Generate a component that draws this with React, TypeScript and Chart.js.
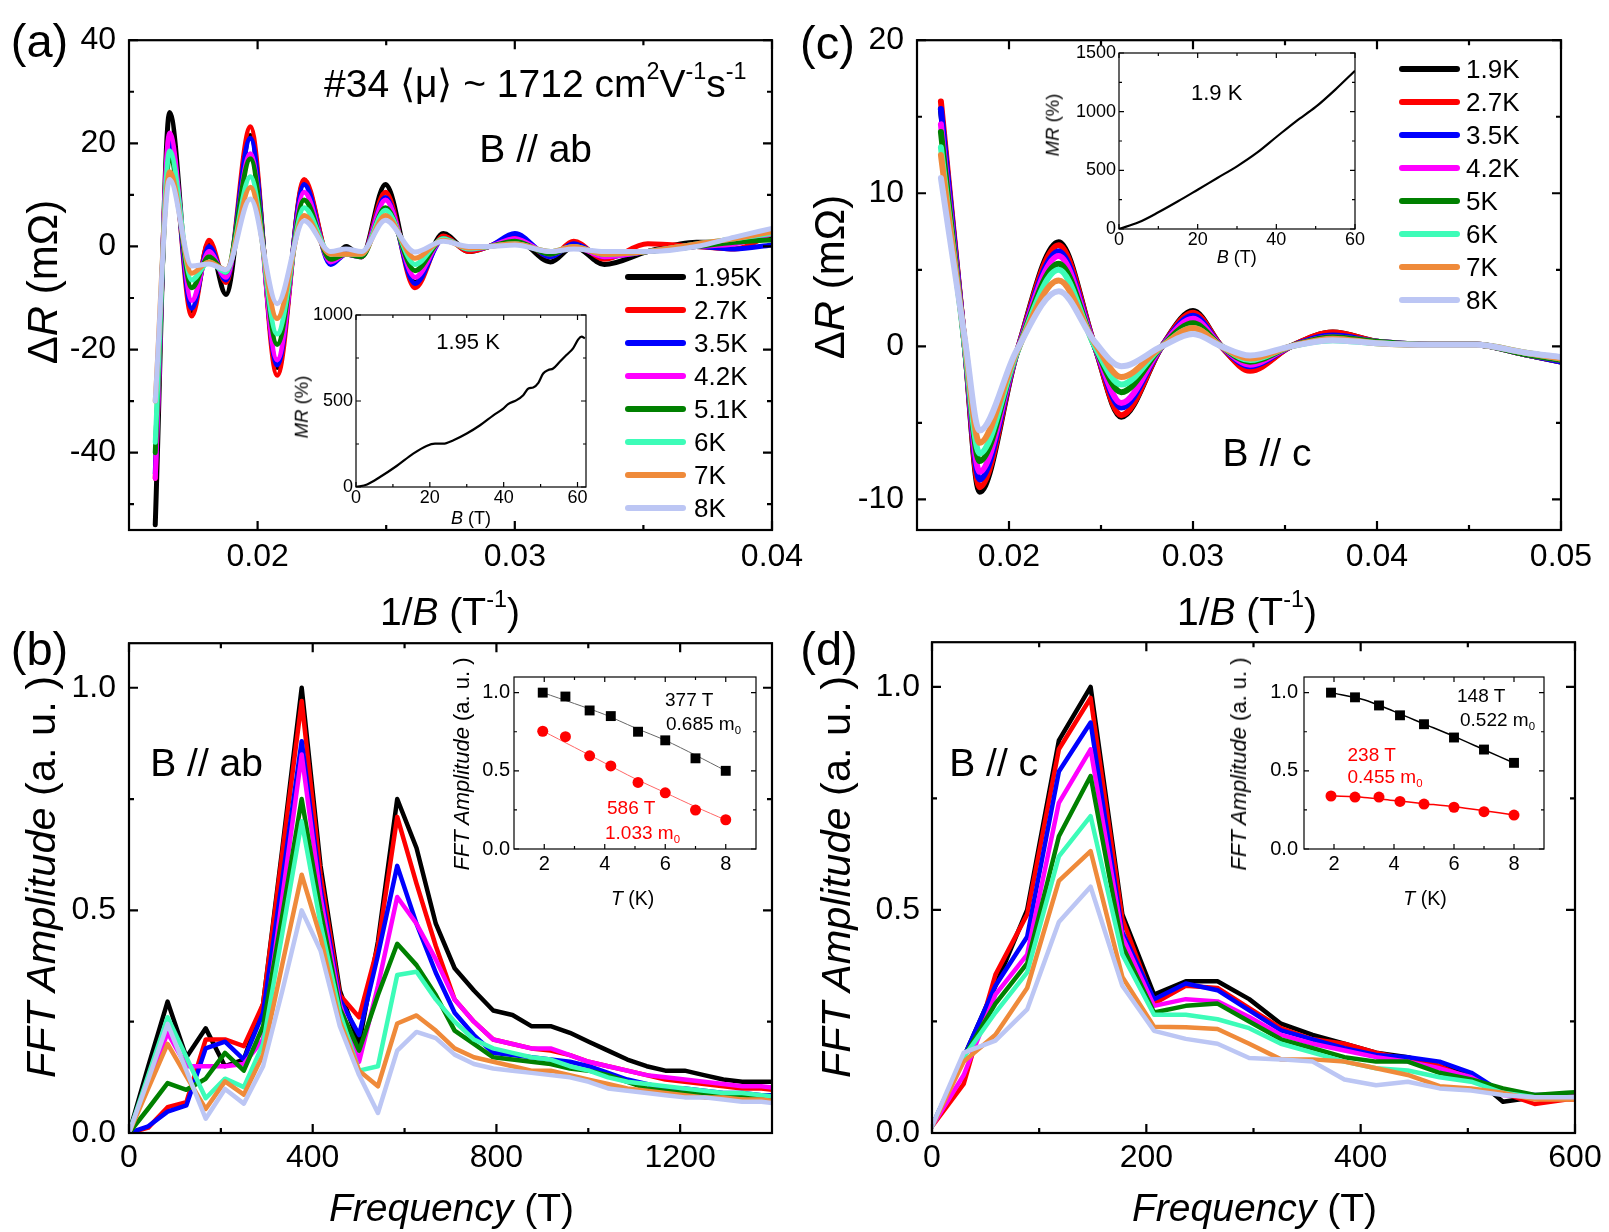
import { useEffect, useRef } from 'react';
import { Chart, registerables } from 'chart.js';

Chart.register(...registerables);

const FONT = '"Liberation Sans", Arial, Helvetica, sans-serif';

const SERIES_COLORS = ['#000000', '#ff0000', '#0000ff', '#ff00ff', '#008000', '#3dfcb8', '#ef8a3a', '#bcc6f4'];
const TEMPS_AB = ['1.95K', '2.7K', '3.5K', '4.2K', '5.1K', '6K', '7K', '8K'];
const TEMPS_C = ['1.9K', '2.7K', '3.5K', '4.2K', '5K', '6K', '7K', '8K'];

// ---- Panel (a): ΔR vs 1/B, B // ab ----
const A_INVB = [0.01602, 0.01658, 0.01744, 0.01811, 0.01877, 0.01972, 0.02076, 0.02181, 0.02284, 0.02344, 0.02404, 0.02497, 0.02612, 0.02722, 0.02821, 0.02901, 0.03, 0.03139, 0.03229, 0.03348, 0.03517, 0.03706, 0.03855, 0.04];
const A_195K = [-54, 26, -12.5, 0.8, -9.3, 21.5, -23.5, 12.5, -3, 0, -2, 12, -7, 2.5, -1, 0, 1.5, -3, 0, -3.5, -1, 0.8, 0.8, 2];
const A_27K = [-45, 21.5, -13.5, 1.2, -7, 23.2, -25, 13, -3, -1, -2, 10.5, -8, 2, -1, 0, 2, -2, 1, -2.5, 0.5, 0, -0.5, 2.5];
const A_35K = [-44, 20.5, -12, 0, -6.5, 21, -23, 12, -3.5, -1.5, -2, 9.5, -7.2, 1.5, -0.5, 0, 2.5, -2, 0.5, -2, -1, 0, -0.5, 0.3];
const A_42K = [-45, 22, -10.5, -1, -6, 18, -22, 10.5, -3, -1.5, -2, 9, -6, 1.5, -0.5, 0, 1.5, -1.5, 0, -2, -1, 0, 0.5, 2.5];
const A_51K = [-40, 17.5, -8, -2, -5, 17, -19, 9, -2.5, -1.5, -2, 7.5, -4.7, 1.5, -0.5, 0, 1, -1.5, 0, -1.5, -1, 0, 0.8, 1.3];
const A_6K = [-38, 18.5, -6.5, -3, -5, 13.5, -17, 7.5, -1.5, -1.5, -1.5, 7, -3.5, 1.5, -0.5, 0, 0.5, -1, 0, -1.5, -1, 0.5, 1.5, 2.5];
const A_7K = [-30, 14.5, -5.2, -3, -4.5, 11.5, -14, 6, -1.5, -1.5, -1.5, 6, -2.3, 1.2, -0.3, 0, 0.5, -1, 0, -1.5, -1, 0.5, 1.5, 2.8];
const A_8K = [-30, 13, -3.8, -3.4, -4.5, 9.2, -11.1, 5, -1, -0.5, -1, 5.1, -1.1, 1, 0, 0, 0.3, -1, -0.5, -1, -1, 0, 1.8, 3.5];

// inset (a): MR vs B at 1.95 K
const A_INSET_B = [0, 3, 6.5, 11, 15.5, 19.1, 21.4, 23.6, 26.4, 30, 33.6, 37.2, 39.9, 41.2, 43.5, 45.3, 46.7, 48, 49.4, 50.7, 52.1, 53.4, 55.2, 57, 58.8, 60.2, 61.1, 62];
const A_INSET_MR = [0, 15, 58, 122, 194, 239, 252, 252, 272, 311, 359, 417, 456, 482, 505, 534, 573, 579, 606, 660, 680, 689, 728, 767, 806, 858, 874, 864];

// ---- Panel (c): ΔR vs 1/B, B // c ----
const C_INVB = [0.0163, 0.0176, 0.0184, 0.0204, 0.0227, 0.02466, 0.0261, 0.02831, 0.03, 0.03154, 0.0331, 0.03532, 0.0376, 0.04, 0.0429, 0.0454, 0.048, 0.05];
const C_19K = [15.5, 0, -9.5, -0.5, 6.8, 0, -4.6, 0, 2.3, 0, -1.5, 0, 0.9, 0.3, 0.1, 0.1, -0.5, -1];
const C_27K = [16, 0, -9.2, -0.5, 6.6, 0, -4.5, 0, 2.2, 0, -1.6, 0, 0.9, 0.3, 0.1, 0.1, -0.5, -1];
const C_35K = [15.5, 0, -8.7, -0.5, 6.2, 0, -4, 0, 2, 0, -1.3, 0, 0.7, 0.3, 0.1, 0.1, -0.5, -1];
const C_42K = [14.5, 0, -8.2, -0.5, 5.9, 0, -3.7, 0, 1.8, 0, -1.2, 0, 0.6, 0.3, 0.1, 0.1, -0.5, -0.9];
const C_5K = [14, 0, -7.5, -0.5, 5.4, 0, -3, 0, 1.5, 0, -1, 0, 0.6, 0.3, 0.1, 0.1, -0.5, -0.9];
const C_6K = [13, 0, -7, -0.5, 5, 0, -2.5, 0, 1.2, 0, -0.9, 0, 0.4, 0.2, 0.1, 0.1, -0.4, -0.8];
const C_7K = [12.5, 0.3, -6.3, -0.4, 4.3, 0.2, -2, 0, 1.2, 0, -0.8, 0, 0.5, 0.2, 0.1, 0.1, -0.4, -0.8];
const C_8K = [11, 0.5, -5.5, -0.3, 3.6, 0.3, -1.3, 0, 0.8, 0, -0.6, 0, 0.4, 0.2, 0.1, 0.1, -0.4, -0.7];

// inset (c): MR vs B at 1.9 K
const C_INSET_B = [0, 5, 10, 15, 20, 25, 30, 35, 40, 45, 50, 55, 60];
const C_INSET_MR = [0, 57, 142, 236, 335, 435, 534, 648, 784, 918, 1040, 1188, 1349];

// ---- Panel (b): FFT, B // ab ----
const B_FREQ = [0, 42, 84, 125, 167, 209, 250, 292, 334, 376, 417, 459, 501, 542, 584, 626, 668, 709, 751, 793, 835, 876, 918, 960, 1001, 1043, 1085, 1127, 1168, 1210, 1252, 1294, 1335, 1377, 1419];
const B_195K = [0, 0.15, 0.295, 0.17, 0.235, 0.15, 0.165, 0.29, 0.64, 1.0, 0.6, 0.32, 0.2, 0.43, 0.75, 0.64, 0.47, 0.37, 0.32, 0.275, 0.265, 0.24, 0.24, 0.225, 0.205, 0.185, 0.165, 0.15, 0.14, 0.14, 0.13, 0.12, 0.115, 0.115, 0.115];
const B_27K = [0, 0.012, 0.058, 0.069, 0.21, 0.21, 0.195, 0.29, 0.63, 0.97, 0.58, 0.31, 0.26, 0.42, 0.71, 0.56, 0.42, 0.3, 0.25, 0.21, 0.2, 0.19, 0.185, 0.175, 0.16, 0.15, 0.14, 0.13, 0.12, 0.115, 0.11, 0.105, 0.1, 0.1, 0.095];
const B_35K = [0, 0.015, 0.048, 0.062, 0.19, 0.205, 0.165, 0.27, 0.57, 0.88, 0.55, 0.3, 0.22, 0.4, 0.6, 0.47, 0.36, 0.27, 0.22, 0.18, 0.175, 0.17, 0.165, 0.16, 0.15, 0.135, 0.12, 0.11, 0.1, 0.1, 0.095, 0.09, 0.09, 0.085, 0.085];
const B_42K = [0, 0.11, 0.225, 0.15, 0.15, 0.15, 0.155, 0.21, 0.53, 0.85, 0.53, 0.29, 0.16, 0.33, 0.53, 0.47, 0.39, 0.3, 0.25, 0.21, 0.2, 0.19, 0.19, 0.175, 0.16, 0.15, 0.14, 0.13, 0.125, 0.12, 0.115, 0.11, 0.105, 0.105, 0.1];
const B_51K = [0, 0.055, 0.112, 0.097, 0.122, 0.18, 0.14, 0.24, 0.49, 0.75, 0.5, 0.28, 0.185, 0.31, 0.425, 0.377, 0.31, 0.23, 0.2, 0.17, 0.165, 0.16, 0.155, 0.145, 0.14, 0.13, 0.115, 0.1, 0.095, 0.09, 0.09, 0.085, 0.085, 0.08, 0.08];
const B_6K = [0, 0.13, 0.26, 0.17, 0.078, 0.122, 0.103, 0.2, 0.45, 0.7, 0.47, 0.27, 0.14, 0.15, 0.355, 0.362, 0.3, 0.25, 0.21, 0.19, 0.18, 0.17, 0.165, 0.15, 0.14, 0.125, 0.115, 0.11, 0.105, 0.1, 0.095, 0.09, 0.09, 0.085, 0.08];
const B_7K = [0, 0.1, 0.2, 0.127, 0.054, 0.116, 0.086, 0.176, 0.38, 0.58, 0.44, 0.25, 0.14, 0.105, 0.246, 0.264, 0.23, 0.19, 0.17, 0.16, 0.15, 0.14, 0.14, 0.13, 0.12, 0.11, 0.1, 0.095, 0.09, 0.085, 0.08, 0.08, 0.075, 0.075, 0.07];
const B_8K = [0, 0.12, 0.245, 0.14, 0.032, 0.099, 0.066, 0.15, 0.32, 0.5, 0.41, 0.24, 0.13, 0.045, 0.185, 0.227, 0.213, 0.176, 0.155, 0.145, 0.14, 0.135, 0.13, 0.125, 0.115, 0.1, 0.095, 0.09, 0.085, 0.08, 0.08, 0.075, 0.07, 0.07, 0.065];

// inset (b): peak amplitude vs T
const B_INSET_T = [1.95, 2.7, 3.5, 4.2, 5.1, 6, 7, 8];
const B_INSET_377T = [1.0, 0.975, 0.886, 0.85, 0.75, 0.695, 0.58, 0.5];
const B_INSET_586T = [0.753, 0.718, 0.596, 0.531, 0.426, 0.359, 0.249, 0.187];
const B_FIT_T = [1.95, 3, 4, 5, 6, 7, 8];
const B_FIT_377T = [1.0, 0.93, 0.86, 0.775, 0.695, 0.6, 0.5];
const B_FIT_586T = [0.755, 0.65, 0.55, 0.45, 0.36, 0.27, 0.185];

// ---- Panel (d): FFT, B // c ----
const D_FREQ = [0, 29.6, 59.2, 88.8, 118.4, 148, 177.6, 207.2, 236.8, 266.4, 296, 325.6, 355.2, 384.8, 414.4, 444, 473.6, 503.2, 532.8, 562.4, 592, 621.6];
const D_19K = [0.015, 0.17, 0.33, 0.5, 0.88, 1.0, 0.49, 0.31, 0.34, 0.34, 0.3, 0.245, 0.22, 0.2, 0.18, 0.17, 0.15, 0.13, 0.07, 0.08, 0.08, 0.08];
const D_27K = [0.015, 0.11, 0.355, 0.49, 0.86, 0.975, 0.48, 0.29, 0.33, 0.325, 0.28, 0.235, 0.21, 0.2, 0.18, 0.165, 0.15, 0.12, 0.09, 0.065, 0.075, 0.075];
const D_35K = [0.015, 0.17, 0.33, 0.44, 0.81, 0.92, 0.45, 0.3, 0.335, 0.32, 0.275, 0.23, 0.21, 0.19, 0.175, 0.17, 0.16, 0.135, 0.09, 0.085, 0.085, 0.085];
const D_42K = [0.015, 0.13, 0.31, 0.4, 0.74, 0.86, 0.44, 0.285, 0.3, 0.295, 0.26, 0.22, 0.2, 0.185, 0.17, 0.16, 0.145, 0.125, 0.085, 0.08, 0.085, 0.085];
const D_5K = [0.015, 0.17, 0.29, 0.38, 0.665, 0.8, 0.42, 0.27, 0.285, 0.29, 0.25, 0.21, 0.19, 0.17, 0.16, 0.16, 0.135, 0.12, 0.1, 0.085, 0.09, 0.095];
const D_6K = [0.015, 0.17, 0.27, 0.36, 0.62, 0.71, 0.4, 0.265, 0.265, 0.255, 0.235, 0.2, 0.18, 0.16, 0.145, 0.14, 0.125, 0.115, 0.09, 0.08, 0.08, 0.08];
const D_7K = [0.015, 0.16, 0.22, 0.325, 0.565, 0.632, 0.35, 0.238, 0.237, 0.233, 0.2, 0.165, 0.165, 0.16, 0.145, 0.13, 0.105, 0.1, 0.09, 0.075, 0.075, 0.075];
const D_8K = [0.015, 0.18, 0.207, 0.277, 0.473, 0.552, 0.33, 0.229, 0.211, 0.2, 0.168, 0.165, 0.16, 0.12, 0.107, 0.115, 0.1, 0.095, 0.085, 0.08, 0.08, 0.08];

// inset (d): peak amplitude vs T
const D_INSET_T = [1.9, 2.7, 3.5, 4.2, 5, 6, 7, 8];
const D_INSET_148T = [1.0, 0.97, 0.918, 0.855, 0.798, 0.713, 0.636, 0.551];
const D_INSET_238T = [0.339, 0.332, 0.332, 0.304, 0.287, 0.267, 0.239, 0.217];
const D_FIT_T = [1.9, 3, 4, 5, 6, 7, 8];
const D_FIT_148T = [1.0, 0.955, 0.88, 0.8, 0.72, 0.635, 0.55];
const D_FIT_238T = [0.34, 0.33, 0.31, 0.29, 0.27, 0.245, 0.218];

// ---- axis ticks ----
const A_X_TICKS = [0.02, 0.03, 0.04];
const A_X_LABELS = ['0.02', '0.03', '0.04'];
const A_X_MINOR = [0.025, 0.035];
const A_Y_TICKS = [-40, -20, 0, 20, 40];
const A_Y_LABELS = ['-40', '-20', '0', '20', '40'];
const A_Y_MINOR = [-50, -30, -10, 10, 30];

const C_X_TICKS = [0.02, 0.03, 0.04, 0.05];
const C_X_LABELS = ['0.02', '0.03', '0.04', '0.05'];
const C_X_MINOR = [0.025, 0.035, 0.045];
const C_Y_TICKS = [-10, 0, 10, 20];
const C_Y_LABELS = ['-10', '0', '10', '20'];
const C_Y_MINOR = [-5, 5, 15];

const B_X_TICKS = [0, 400, 800, 1200];
const B_X_LABELS = ['0', '400', '800', '1200'];
const B_X_MINOR = [200, 600, 1000];
const D_X_TICKS = [0, 200, 400, 600];
const D_X_LABELS = ['0', '200', '400', '600'];
const D_X_MINOR = [100, 300, 500];
const FFT_Y_TICKS = [0, 0.5, 1.0];
const FFT_Y_LABELS = ['0.0', '0.5', '1.0'];
const FFT_Y_MINOR = [0.25, 0.75];

const MR_B_TICKS = [0, 20, 40, 60];
const MR_B_LABELS = ['0', '20', '40', '60'];
const MR_B_MINOR = [10, 30, 50];
const A_MR_TICKS = [0, 500, 1000];
const A_MR_LABELS = ['0', '500', '1000'];
const A_MR_MINOR = [250, 750];
const C_MR_TICKS = [0, 500, 1000, 1500];
const C_MR_LABELS = ['0', '500', '1000', '1500'];
const C_MR_MINOR = [250, 750, 1250];
const T_TICKS = [2, 4, 6, 8];
const T_LABELS = ['2', '4', '6', '8'];
const T_MINOR = [3, 5, 7];

type Box = { l: number; t: number; r: number; b: number };
type AxisSpec = { min: number; max: number; ticks: number[]; labels: string[]; minor: number[]; font: number; pad: number };
type FrameStyle = { major: number; minor: number; lineWidth: number };

// Frame box plus inward tick marks on all four sides, placed through the chart's scales.
const frameTicks = {
  id: 'frameTicks',
  afterDraw(chart: any, _args: any, opts: any) {
    const { ctx, chartArea: a } = chart;
    const xs = chart.scales.x;
    const ys = chart.scales.y;
    ctx.save();
    ctx.strokeStyle = '#000';
    ctx.lineWidth = opts.lineWidth;
    ctx.beginPath();
    const tickX = (v: number, len: number) => {
      const p = xs.getPixelForValue(v);
      ctx.moveTo(p, a.bottom);
      ctx.lineTo(p, a.bottom - len);
      ctx.moveTo(p, a.top);
      ctx.lineTo(p, a.top + len);
    };
    const tickY = (v: number, len: number) => {
      const p = ys.getPixelForValue(v);
      ctx.moveTo(a.left, p);
      ctx.lineTo(a.left + len, p);
      ctx.moveTo(a.right, p);
      ctx.lineTo(a.right - len, p);
    };
    opts.xMajor.forEach((v: number) => tickX(v, opts.major));
    opts.xMinor.forEach((v: number) => tickX(v, opts.minor));
    opts.yMajor.forEach((v: number) => tickY(v, opts.major));
    opts.yMinor.forEach((v: number) => tickY(v, opts.minor));
    ctx.stroke();
    ctx.strokeRect(a.left, a.top, a.right - a.left, a.bottom - a.top);
    ctx.restore();
  },
};

function scaleOptions(spec: AxisSpec, isX: boolean, fitSize: number) {
  return {
    type: 'linear',
    position: isX ? 'bottom' : 'left',
    min: spec.min,
    max: spec.max,
    grid: { display: false, drawTicks: false },
    border: { display: false },
    afterBuildTicks: (s: any) => {
      s.ticks = spec.ticks.map((v) => ({ value: v }));
    },
    afterFit: (s: any) => {
      if (isX) s.height = fitSize;
      else s.width = fitSize;
    },
    ticks: {
      autoSkip: false,
      maxRotation: 0,
      minRotation: 0,
      includeBounds: false,
      padding: spec.pad,
      color: '#000',
      font: { family: FONT, size: spec.font },
      callback: (_v: any, i: number) => spec.labels[i],
    },
  };
}

function points(xs: number[], ys: number[]) {
  return xs.map((x, i) => ({ x, y: ys[i] }));
}

function seriesSets(xs: number[], rows: number[][], width: number, smooth: boolean) {
  return rows.map((ys, i) => ({
    data: points(xs, ys),
    borderColor: SERIES_COLORS[i],
    backgroundColor: SERIES_COLORS[i],
    borderWidth: width,
    pointRadius: 0,
    fill: false,
    tension: 0,
    cubicInterpolationMode: smooth ? 'monotone' : 'default',
    borderJoinStyle: 'round',
    borderCapStyle: 'round',
    order: rows.length - i,
  }));
}

function PlotCanvas({ frame, pad, x, y, datasets, style }: { frame: Box; pad: Box; x: AxisSpec; y: AxisSpec; datasets: any[]; style: FrameStyle }) {
  const ref = useRef<HTMLCanvasElement | null>(null);
  const cv = { l: frame.l - pad.l, t: frame.t - pad.t, r: frame.r + pad.r, b: frame.b + pad.b };
  const w = Math.round(cv.r - cv.l);
  const h = Math.round(cv.b - cv.t);
  useEffect(() => {
    const chart = new Chart(ref.current as HTMLCanvasElement, {
      type: 'line',
      data: { datasets },
      plugins: [frameTicks],
      options: {
        responsive: false,
        animation: false,
        devicePixelRatio: 1,
        events: [],
        layout: { padding: { left: 0, top: pad.t, right: pad.r, bottom: 0 } },
        scales: {
          x: scaleOptions(x, true, pad.b),
          y: scaleOptions(y, false, pad.l),
        },
        plugins: {
          legend: { display: false },
          tooltip: { enabled: false },
          frameTicks: { xMajor: x.ticks, xMinor: x.minor, yMajor: y.ticks, yMinor: y.minor, ...style },
        },
      } as any,
    } as any);
    return () => chart.destroy();
  }, []);
  return <canvas ref={ref} width={w} height={h} style={{ position: 'absolute', left: cv.l, top: cv.t, width: w, height: h }} />;
}

function Txt({ x, y, size, children, rotate = false, left = false, color = '#000' }: any) {
  const transform = left ? 'translateY(-50%)' : `translate(-50%, -50%)${rotate ? ' rotate(-90deg)' : ''}`;
  return (
    <div style={{ position: 'absolute', left: x, top: y, width: 0, height: 0 }}>
      <div
        style={{
          position: 'absolute',
          left: 0,
          top: 0,
          transform,
          transformOrigin: left ? 'left center' : 'center center',
          whiteSpace: 'nowrap',
          fontFamily: FONT,
          fontSize: size,
          lineHeight: 1,
          color,
        }}
      >
        {children}
      </div>
    </div>
  );
}

const sup = (s: string) => <span style={{ fontSize: '0.6em', position: 'relative', top: '-0.75em' }}>{s}</span>;
const sub = (s: string) => <span style={{ fontSize: '0.6em', position: 'relative', top: '0.35em' }}>{s}</span>;
const it = (s: string) => <span style={{ fontStyle: 'italic' }}>{s}</span>;

function Legend({ x0, x1, tx, y0, labels }: { x0: number; x1: number; tx: number; y0: number; labels: string[] }) {
  return (
    <>
      {labels.map((lab, i) => (
        <div key={lab}>
          <div style={{ position: 'absolute', left: x0, top: y0 + 33 * i - 3, width: x1 - x0, height: 6, borderRadius: 3, background: SERIES_COLORS[i] }} />
          <Txt x={tx} y={y0 + 33 * i} size={26} left>{lab}</Txt>
        </div>
      ))}
    </>
  );
}

const MAIN_STYLE: FrameStyle = { major: 9, minor: 5, lineWidth: 2.2 };
const INSET_STYLE: FrameStyle = { major: 5, minor: 3, lineWidth: 1.2 };

export default function App() {
  const frameA = { l: 129.3, t: 38.3, r: 772.7, b: 530 };
  const frameC = { l: 917, t: 38.3, r: 1560.5, b: 530 };
  const frameB = { l: 129.3, t: 641, r: 772.7, b: 1132.7 };
  const frameD = { l: 931.7, t: 641, r: 1575, b: 1132.7 };
  const insetA = { l: 356, t: 315, r: 586, b: 486.7 };
  const insetC = { l: 1119, t: 53.3, r: 1355, b: 229.3 };
  const insetB = { l: 514, t: 677, r: 756, b: 849.2 };
  const insetD = { l: 1303.6, t: 677, r: 1543.8, b: 849.2 };
  const mainPad = { l: 110, t: 30, r: 50, b: 60 };
  const insetPad = { l: 60, t: 20, r: 25, b: 30 };

  const fitLine = (xs: number[], ys: number[], color: string, w: number) => ({
    data: points(xs, ys), borderColor: color, borderWidth: w, pointRadius: 0, fill: false, tension: 0.3, order: 10,
  });
  const marks = (xs: number[], ys: number[], color: string, shape: string, r: number) => ({
    data: points(xs, ys), showLine: false, borderColor: color, backgroundColor: color, pointStyle: shape, pointRadius: r, borderWidth: 0, order: 1,
  });

  return (
    <div style={{ position: 'absolute', left: 0, top: 0, width: 1609, height: 1232, background: '#fff', overflow: 'hidden' }}>
      <PlotCanvas
        frame={frameA}
        pad={mainPad}
        style={MAIN_STYLE}
        x={{ min: 0.015, max: 0.04, ticks: A_X_TICKS, labels: A_X_LABELS, minor: A_X_MINOR, font: 32, pad: 8 }}
        y={{ min: -55, max: 40, ticks: A_Y_TICKS, labels: A_Y_LABELS, minor: A_Y_MINOR, font: 32, pad: 13 }}
        datasets={seriesSets(A_INVB, [A_195K, A_27K, A_35K, A_42K, A_51K, A_6K, A_7K, A_8K], 5, true)}
      />
      <PlotCanvas
        frame={frameC}
        pad={mainPad}
        style={MAIN_STYLE}
        x={{ min: 0.015, max: 0.05, ticks: C_X_TICKS, labels: C_X_LABELS, minor: C_X_MINOR, font: 32, pad: 8 }}
        y={{ min: -12, max: 20, ticks: C_Y_TICKS, labels: C_Y_LABELS, minor: C_Y_MINOR, font: 32, pad: 13 }}
        datasets={seriesSets(C_INVB, [C_19K, C_27K, C_35K, C_42K, C_5K, C_6K, C_7K, C_8K], 6, true)}
      />
      <PlotCanvas
        frame={frameB}
        pad={mainPad}
        style={MAIN_STYLE}
        x={{ min: 0, max: 1400, ticks: B_X_TICKS, labels: B_X_LABELS, minor: B_X_MINOR, font: 32, pad: 6 }}
        y={{ min: 0, max: 1.1, ticks: FFT_Y_TICKS, labels: FFT_Y_LABELS, minor: FFT_Y_MINOR, font: 32, pad: 13 }}
        datasets={seriesSets(B_FREQ, [B_195K, B_27K, B_35K, B_42K, B_51K, B_6K, B_7K, B_8K], 4.5, false)}
      />
      <PlotCanvas
        frame={frameD}
        pad={mainPad}
        style={MAIN_STYLE}
        x={{ min: 0, max: 600, ticks: D_X_TICKS, labels: D_X_LABELS, minor: D_X_MINOR, font: 32, pad: 6 }}
        y={{ min: 0, max: 1.1, ticks: FFT_Y_TICKS, labels: FFT_Y_LABELS, minor: FFT_Y_MINOR, font: 32, pad: 12 }}
        datasets={seriesSets(D_FREQ, [D_19K, D_27K, D_35K, D_42K, D_5K, D_6K, D_7K, D_8K], 4.5, false)}
      />

      <PlotCanvas
        frame={insetA}
        pad={insetPad}
        style={INSET_STYLE}
        x={{ min: 0, max: 62.3, ticks: MR_B_TICKS, labels: MR_B_LABELS, minor: MR_B_MINOR, font: 18, pad: 0 }}
        y={{ min: 0, max: 1000, ticks: A_MR_TICKS, labels: A_MR_LABELS, minor: A_MR_MINOR, font: 18, pad: 3 }}
        datasets={[{ data: points(A_INSET_B, A_INSET_MR), borderColor: '#000', borderWidth: 2.2, pointRadius: 0, fill: false, cubicInterpolationMode: 'monotone' }]}
      />
      <PlotCanvas
        frame={insetC}
        pad={insetPad}
        style={INSET_STYLE}
        x={{ min: 0, max: 60, ticks: MR_B_TICKS, labels: MR_B_LABELS, minor: MR_B_MINOR, font: 18, pad: 0 }}
        y={{ min: 0, max: 1500, ticks: C_MR_TICKS, labels: C_MR_LABELS, minor: C_MR_MINOR, font: 18, pad: 3 }}
        datasets={[{ data: points(C_INSET_B, C_INSET_MR), borderColor: '#000', borderWidth: 2.2, pointRadius: 0, fill: false, cubicInterpolationMode: 'monotone' }]}
      />
      <PlotCanvas
        frame={insetB}
        pad={insetPad}
        style={INSET_STYLE}
        x={{ min: 1, max: 9, ticks: T_TICKS, labels: T_LABELS, minor: T_MINOR, font: 20, pad: 3 }}
        y={{ min: 0, max: 1.1, ticks: FFT_Y_TICKS, labels: FFT_Y_LABELS, minor: FFT_Y_MINOR, font: 20, pad: 4 }}
        datasets={[
          fitLine(B_FIT_T, B_FIT_377T, '#666666', 1),
          fitLine(B_FIT_T, B_FIT_586T, '#ff6666', 1),
          marks(B_INSET_T, B_INSET_377T, '#000000', 'rect', 7),
          marks(B_INSET_T, B_INSET_586T, '#ff0000', 'circle', 5.5),
        ]}
      />
      <PlotCanvas
        frame={insetD}
        pad={insetPad}
        style={INSET_STYLE}
        x={{ min: 1, max: 9, ticks: T_TICKS, labels: T_LABELS, minor: T_MINOR, font: 20, pad: 3 }}
        y={{ min: 0, max: 1.1, ticks: FFT_Y_TICKS, labels: FFT_Y_LABELS, minor: FFT_Y_MINOR, font: 20, pad: 6 }}
        datasets={[
          fitLine(D_FIT_T, D_FIT_148T, '#000000', 1.5),
          fitLine(D_FIT_T, D_FIT_238T, '#ff0000', 1.5),
          marks(D_INSET_T, D_INSET_148T, '#000000', 'rect', 7),
          marks(D_INSET_T, D_INSET_238T, '#ff0000', 'circle', 5.5),
        ]}
      />

      {/* panel letters */}
      <Txt x={39.5} y={40} size={47}>(a)</Txt>
      <Txt x={827.5} y={42} size={47}>(c)</Txt>
      <Txt x={39.5} y={648} size={47}>(b)</Txt>
      <Txt x={829} y={648} size={47}>(d)</Txt>

      {/* axis titles */}
      <Txt x={43} y={282} size={42} rotate>Δ{it('R')} (mΩ)</Txt>
      <Txt x={830} y={277} size={42} rotate>Δ{it('R')} (mΩ)</Txt>
      <Txt x={450} y={611} size={39}>1/{it('B')} (T{sup('-1')})</Txt>
      <Txt x={1247} y={611} size={39}>1/{it('B')} (T{sup('-1')})</Txt>
      <Txt x={41} y={877} size={41.5} rotate>{it('FFT Amplitude')} (a. u. )</Txt>
      <Txt x={836} y={877} size={41.5} rotate>{it('FFT Amplitude')} (a. u. )</Txt>
      <Txt x={451.5} y={1207} size={39}>{it('Frequency')} (T)</Txt>
      <Txt x={1254.5} y={1207} size={39}>{it('Frequency')} (T)</Txt>

      {/* panel annotations */}
      <Txt x={324} y={83} size={39} left>#34 ⟨μ⟩ ~ 1712 cm{sup('2')}V{sup('-1')}s{sup('-1')}</Txt>
      <Txt x={535.7} y={148} size={39}>B // ab</Txt>
      <Txt x={1267} y={452} size={39}>B // c</Txt>
      <Txt x={206.6} y={762} size={39}>B // ab</Txt>
      <Txt x={993.7} y={762} size={39}>B // c</Txt>

      <Legend x0={625} x1={686} tx={694} y0={277} labels={TEMPS_AB} />
      <Legend x0={1398.6} x1={1459.7} tx={1466} y0={69.2} labels={TEMPS_C} />

      {/* inset (a) */}
      <Txt x={468} y={341.7} size={22}>1.95 K</Txt>
      <Txt x={301.7} y={406.7} size={18.5} rotate>{it('MR')} (%)</Txt>
      <Txt x={471} y={518} size={18}>{it('B')} (T)</Txt>
      {/* inset (c) */}
      <Txt x={1216.7} y={93.3} size={22}>1.9 K</Txt>
      <Txt x={1053} y={125} size={18.5} rotate>{it('MR')} (%)</Txt>
      <Txt x={1236.7} y={257} size={18}>{it('B')} (T)</Txt>
      {/* inset (b) */}
      <Txt x={461.7} y={763.8} size={22} rotate>{it('FFT Amplitude')} (a. u. )</Txt>
      <Txt x={632.7} y={899} size={19.5}>{it('T')} (K)</Txt>
      <Txt x={665} y={699} size={19} left>377 T</Txt>
      <Txt x={666} y={722.7} size={19} left>0.685 m{sub('0')}</Txt>
      <Txt x={607} y={807} size={19} left color="#ff0000">586 T</Txt>
      <Txt x={605} y={831.6} size={19} left color="#ff0000">1.033 m{sub('0')}</Txt>
      {/* inset (d) */}
      <Txt x={1239} y={763.8} size={22} rotate>{it('FFT Amplitude')} (a. u. )</Txt>
      <Txt x={1425} y={899} size={19.5}>{it('T')} (K)</Txt>
      <Txt x={1457} y={695} size={19} left>148 T</Txt>
      <Txt x={1460} y={719} size={19} left>0.522 m{sub('0')}</Txt>
      <Txt x={1347.5} y={754} size={19} left color="#ff0000">238 T</Txt>
      <Txt x={1347.5} y={776} size={19} left color="#ff0000">0.455 m{sub('0')}</Txt>
    </div>
  );
}
